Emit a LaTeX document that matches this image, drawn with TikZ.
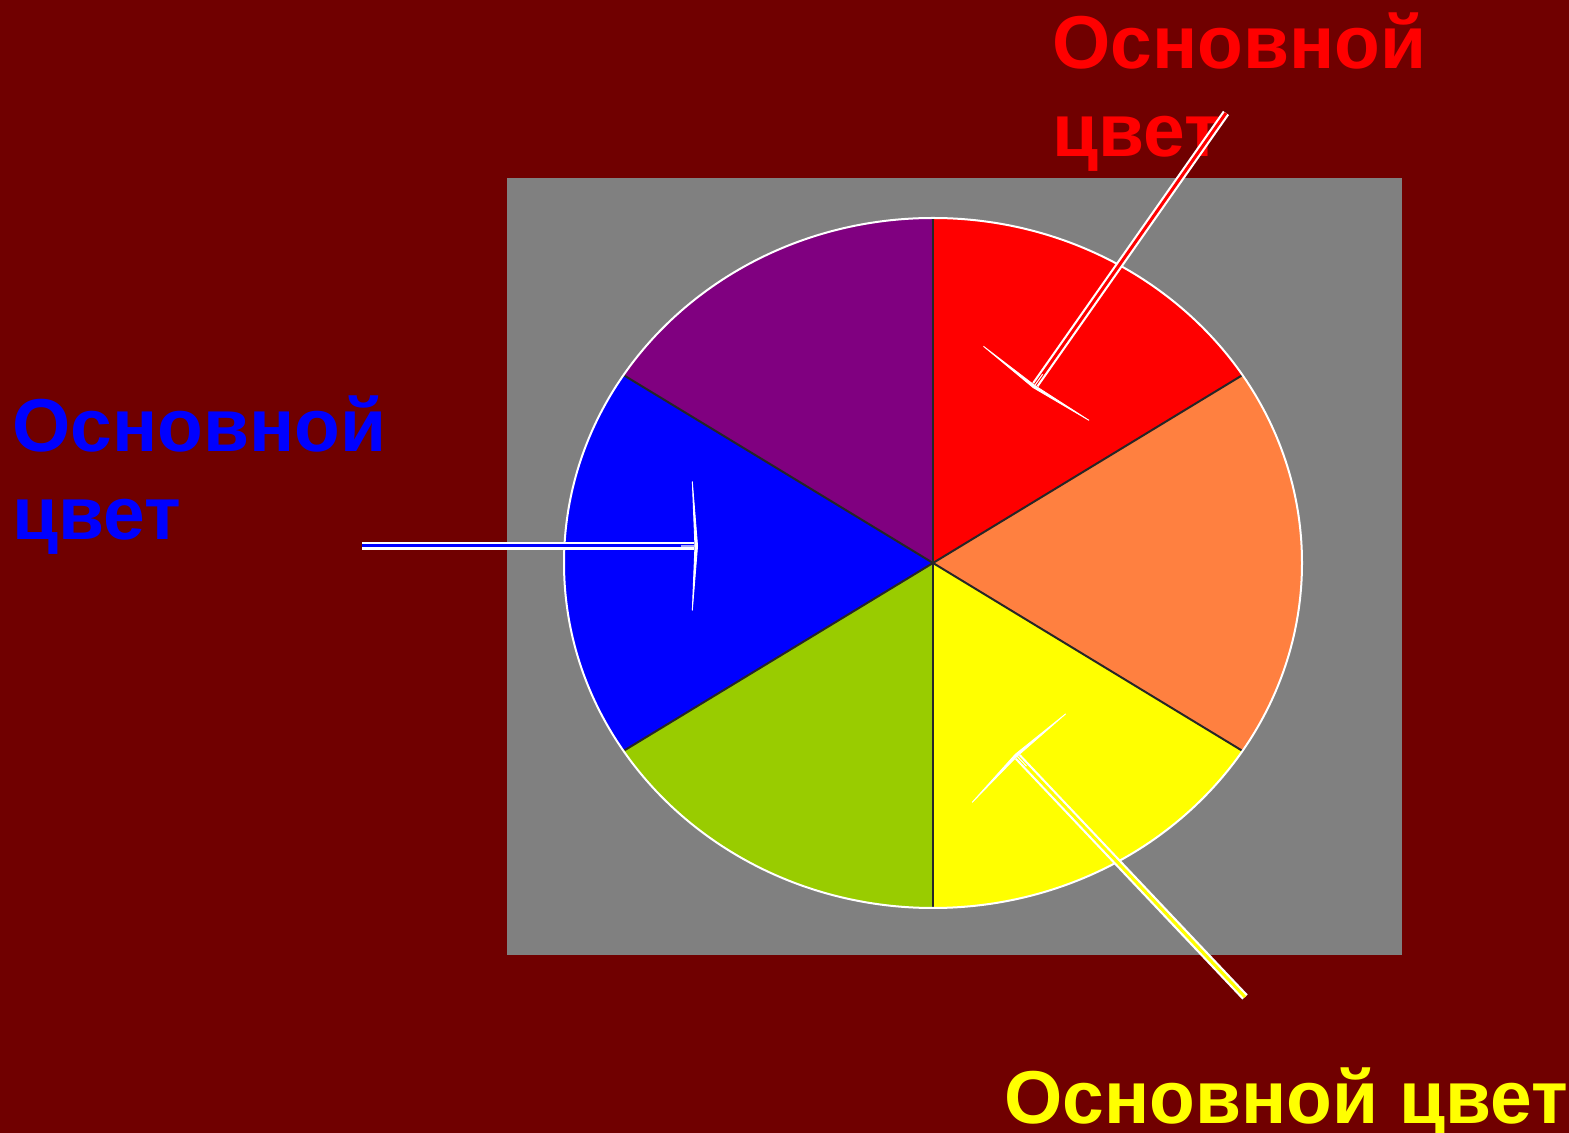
\documentclass[tikz,border=0pt]{standalone}
\usepackage{fontspec}
\setmainfont{Liberation Sans}
\usepackage{xcolor}
\usetikzlibrary{arrows.meta, calc}

\definecolor{bgred}{RGB}{112,0,0}
\definecolor{panel}{RGB}{128,128,128}
\definecolor{wred}{RGB}{255,0,0}
\definecolor{worange}{RGB}{255,128,64}
\definecolor{wyellow}{RGB}{255,255,0}
\definecolor{wgreen}{RGB}{153,204,0}
\definecolor{wblue}{RGB}{0,0,255}
\definecolor{wpurple}{RGB}{128,0,128}

\tikzset{
  %% Caption text
  lbl/.style={
    font=\fontsize{21.3pt}{25.3pt}\selectfont\bfseries,
    text=#1, anchor=base west, align=left, inner sep=0pt
  },
  %% Pointer shaft (white rim, coloured core)
  shaft/.style={draw=white, line width=0.022cm,
                double=#1, double distance=0.03cm,
                shorten >=0.04cm},
  %% Pointer head
  phead/.style={-{Stealth[length=0.07cm,width=1.72cm,inset=0.035cm,fill=white]},
                draw=white, line width=0.3pt},
  %% Wheel spokes
  spoke/.style={draw=black!85, line width=0.02cm},
}

\begin{document}
\begin{tikzpicture}[x=0.01cm, y=0.01cm]

  %% ---- Background ----
  \useasboundingbox (0,0) rectangle (1569,1133);
  \fill[bgred] (0,0) rectangle (1569,1133);
  \fill[panel] (507,178) rectangle (1402,955);

  %% ---- Colour wheel ----
  \coordinate (hub) at (933,570);
  \foreach \a/\b/\c in {33/90/wred, -33/33/worange, -90/-33/wyellow,
                        -147/-90/wgreen, 147/213/wblue, 90/147/wpurple}
    \fill[\c] (hub) -- ($(hub)+(\a:369 and 345)$)
      arc[start angle=\a, end angle=\b, x radius=369, y radius=345] -- cycle;

  \foreach \a in {33,-33,147,213}
    \draw[spoke] (hub) -- ($(hub)+(\a:369 and 345)$);
  \draw[spoke] ($(hub)+(0,345)$) -- ($(hub)+(0,-345)$);
  \draw[white, line width=0.02cm] (hub) ellipse[x radius=369, y radius=345];

  %% ---- Captions (base = last line) ----
  \node[lbl=wred]    (rtxt) at (1052,976) {Основной\\цвет};
  \node[lbl=wblue]   (btxt) at (12,593)   {Основной\\цвет};
  \node[lbl=wyellow] (ytxt) at (1004,9)   {Основной цвет};

  %% ---- Pointers ----
  \coordinate (r-tail) at (1226,1020); \coordinate (r-tip) at (1033,745);
  \coordinate (b-tail) at (362,587);   \coordinate (b-tip) at (698,587);
  \coordinate (y-tail) at (1245,136);  \coordinate (y-tip) at (1015,379);

  \foreach \n/\c in {r/wred, b/wblue, y/wyellow} {
    \draw[shaft=\c] (\n-tail) -- (\n-tip);
    \draw[phead] ($(\n-tail)!0.95!(\n-tip)$) -- (\n-tip);
  }

\end{tikzpicture}
\end{document}
